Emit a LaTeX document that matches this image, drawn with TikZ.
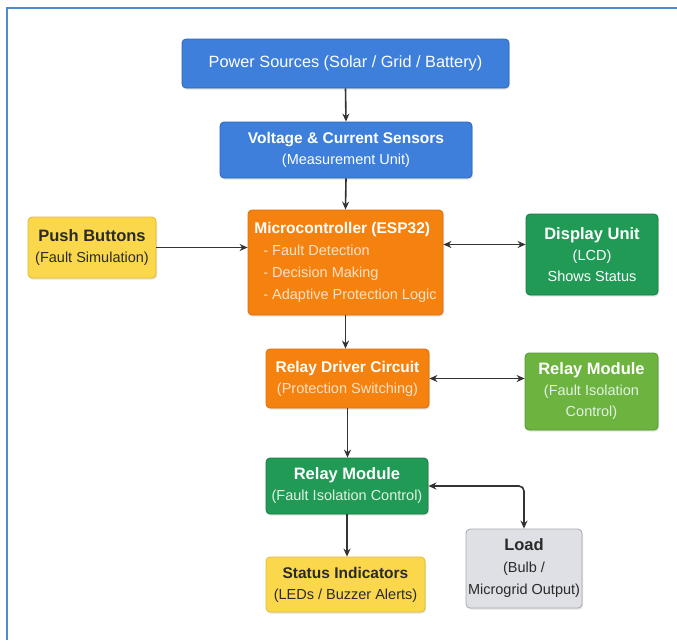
\documentclass[tikz,border=0pt]{standalone}
\usepackage{fontspec}
\setmainfont{Liberation Sans}
\usetikzlibrary{arrows.meta,shadows,calc}
\definecolor{framecol}{HTML}{4F8AD3}
\definecolor{bluebox}{HTML}{3D7FDA}
\definecolor{blueedge}{HTML}{2E68B8}
\definecolor{orangebox}{HTML}{F5820F}
\definecolor{orangeedge}{HTML}{DD6E08}
\definecolor{yellowbox}{HTML}{FBD84B}
\definecolor{yellowedge}{HTML}{E2BC2E}
\definecolor{dgreenbox}{HTML}{219A55}
\definecolor{dgreenedge}{HTML}{187C43}
\definecolor{lgreenbox}{HTML}{6DB33F}
\definecolor{lgreenedge}{HTML}{579A2E}
\definecolor{graybox}{HTML}{DFE0E5}
\definecolor{grayedge}{HTML}{A8AAB1}
\definecolor{darktext}{HTML}{2A2A2A}
\definecolor{arrowcol}{HTML}{333333}
\definecolor{peach}{HTML}{FFE2C6}
\definecolor{mint}{HTML}{E2F2E4}
\newcommand{\ttl}{\fontsize{15.5}{20}\selectfont\bfseries}
\newcommand{\bigttl}{\fontsize{16.5}{20}\selectfont\bfseries}
\tikzset{
  x=1pt, y=-1pt,
  box/.style={rectangle, rounded corners=4pt, line width=0.8pt, align=center,
    inner sep=2pt, font=\fontsize{14.5}{21}\selectfont,
    drop shadow={opacity=0.22, shadow xshift=1pt, shadow yshift=-1.5pt}},
  blue/.style={box, fill=bluebox, draw=blueedge, text=white},
  orange/.style={box, fill=orangebox, draw=orangeedge, text=white},
  yellow/.style={box, fill=yellowbox, draw=yellowedge, text=darktext},
  dgreen/.style={box, fill=dgreenbox, draw=dgreenedge, text=white},
  lgreen/.style={box, fill=lgreenbox, draw=lgreenedge, text=white},
  gray/.style={box, fill=graybox, draw=grayedge, text=darktext},
  conn/.style={draw=arrowcol, line width=1.6pt, -{Stealth[length=8pt,width=7pt]}},
  bconn/.style={draw=arrowcol, line width=1.6pt, {Stealth[length=8pt,width=7pt]}-{Stealth[length=8pt,width=7pt]}},
}
\begin{document}
\begin{tikzpicture}
\useasboundingbox (0,0) rectangle (677,640);
\fill[white] (0,0) rectangle (677,640);
\draw[framecol, line width=2pt] (677,8) -- (7,8) -- (7,640);

\node[blue, minimum width=327pt, minimum height=49pt] (power) at (345.5,63.5)
  {\fontsize{16.3}{20}\selectfont Power Sources (Solar / Grid / Battery)};
\node[blue, minimum width=252pt, minimum height=56pt] (sensors) at (346,150)
  {{\ttl Voltage \& Current Sensors}\\{(Measurement Unit)}};
\node[orange, minimum width=195pt, minimum height=105pt, align=left,
      font=\fontsize{14.5}{22}\selectfont] (micro) at (345.5,262.5)
  {{\ttl Microcontroller (ESP32)}\\
   {\color{peach}\hspace{9pt}- Fault Detection}\\
   {\color{peach}\hspace{9pt}- Decision Making}\\
   {\color{peach}\hspace{9pt}- Adaptive Protection Logic}};
\node[yellow, minimum width=128pt, minimum height=61pt] (push) at (92,247.5)
  {{\bigttl Push Buttons}\\{(Fault Simulation)}};
\node[dgreen, minimum width=132pt, minimum height=81pt] (display) at (592,254.5)
  {{\bigttl Display Unit}\\{(LCD)}\\{Shows Status}};
\node[orange, minimum width=163pt, minimum height=59pt] (driver) at (347.5,378.5)
  {{\ttl Relay Driver Circuit}\\{\color{peach}(Protection Switching)}};
\node[lgreen, minimum width=133pt, minimum height=77pt] (relayR) at (591.5,391.5)
  {{\bigttl Relay Module}\\{\color{mint}(Fault Isolation}\\{\color{mint}Control)}};
\node[dgreen, minimum width=162pt, minimum height=56pt] (relayM) at (347,486)
  {{\bigttl Relay Module}\\{\color{mint}(Fault Isolation Control)}};
\node[yellow, minimum width=159pt, minimum height=55pt] (status) at (345.5,584.5)
  {{\ttl Status Indicators}\\{(LEDs / Buzzer Alerts)}};
\node[gray, minimum width=116pt, minimum height=79pt, font=\fontsize{14.5}{22}\selectfont] (load) at (524,568.5)
  {{\bigttl Load}\\{(Bulb /}\\{Microgrid Output)}};

\coordinate (dA) at ($(micro.east)+(0,-18)$);
\draw[conn] (power.south) -- (sensors.north);
\draw[conn] (sensors.south) -- (micro.north);
\draw[conn] (push.east) -- (push.east -| micro.west);
\draw[bconn] (dA) -- (dA -| display.west);
\draw[conn] (micro.south) -- (micro.south |- driver.north);
\draw[bconn] (driver.east) -- (driver.east -| relayR.west);
\draw[conn] (driver.south) -- (driver.south |- relayM.north);
\draw[conn] (relayM.south) -- (relayM.south |- status.north);
\draw[bconn, rounded corners=5pt] (relayM.east) -| (load.north);
\end{tikzpicture}
\end{document}
